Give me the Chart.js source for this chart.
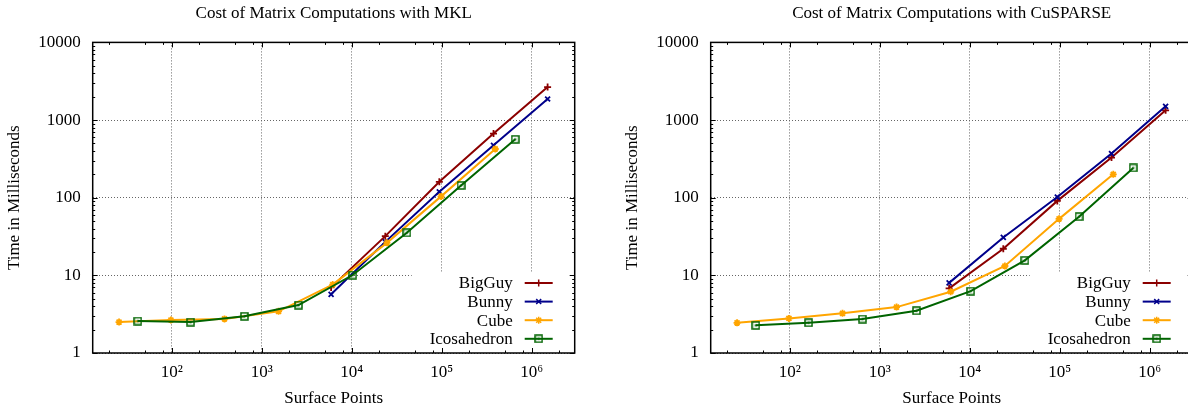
<!DOCTYPE html>
<html><head><meta charset="utf-8">
<script src="https://cdn.jsdelivr.net/npm/chart.js@4/dist/chart.umd.min.js"></script>
<style>
html,body{margin:0;padding:0;background:#fff;overflow:hidden;}
#wrap{position:relative;width:1188px;height:409px;overflow:hidden;background:#fff;}
canvas{position:absolute;top:0;}
</style></head><body>
<div id="wrap">
<canvas id="c1" width="618" height="409" style="left:0px"></canvas>
<canvas id="c2" width="618" height="409" style="left:618px"></canvas>
</div>
<script>
// ---- data ----
const seriesNames = ['BigGuy', 'Bunny', 'Cube', 'Icosahedron'];
const seriesColors = ['#8b0000', '#00008b', '#ffa500', '#006400'];
const bigGuyX = [5900, 23600, 94000, 376000, 1500000];
const bunnyX = [5900, 23600, 94000, 376000, 1500000];
const cubeX = [26, 98, 386, 1538, 6146, 24578, 98306, 393218];
const icoX = [42, 162, 642, 2562, 10242, 40962, 163842, 655362];

const mklBigGuy = [7.0, 32, 160, 670, 2660];
const mklBunny = [5.7, 27, 119, 473, 1866];
const mklCube = [2.5, 2.66, 2.75, 3.44, 7.6, 26.2, 104, 424];
const mklIco = [2.58, 2.5, 2.97, 4.14, 10.1, 35.3, 144, 565];

const cuBigGuy = [6.8, 22, 91, 329, 1334];
const cuBunny = [8.0, 30.8, 102, 370, 1503];
const cuCube = [2.45, 2.79, 3.24, 3.9, 6.15, 13.2, 53.4, 200];
const cuIco = [2.27, 2.45, 2.74, 3.5, 6.27, 15.6, 57, 242];

const xMin = 13.25, xMax = 3.0e6;
const yMin = 1, yMax = 10000;
const xMajorTicks = [100, 1000, 10000, 100000, 1000000];
const xTickLabels = ['10²', '10³', '10⁴', '10⁵', '10⁶'];
const xMinorTicks = [20, 50, 80, 200, 500, 800, 2000, 5000, 8000, 20000, 50000, 80000, 200000, 500000, 800000, 2000000];
const yMajorTicks = [1, 10, 100, 1000, 10000];
const yTickLabels = ['1', '10', '100', '1000', '10000'];
const yMinorTicks = [2, 3, 4, 5, 6, 7, 8, 9, 20, 30, 40, 50, 60, 70, 80, 90,
  200, 300, 400, 500, 600, 700, 800, 900, 2000, 3000, 4000, 5000, 6000, 7000, 8000, 9000];

const FONT = 'Liberation Serif';

function icoPoint(color) {
  const c = document.createElement('canvas');
  c.width = 9; c.height = 9;
  const g = c.getContext('2d');
  g.strokeStyle = color; g.lineWidth = 1.5;
  g.strokeRect(1, 1, 7, 7);
  g.fillStyle = color;
  g.fillRect(3.5, 3.5, 2, 2);
  return c;
}
const pointStyles = ['cross', 'crossRot', 'star', icoPoint(seriesColors[3])];

function pts(xs, ys) { return xs.map((x, i) => ({x: x, y: ys[i]})); }

const gpPlugin = {
  id: 'gp',
  beforeDatasetsDraw(chart) {
    const a = chart.chartArea, ctx = chart.ctx;
    ctx.save();
    ctx.fillStyle = '#fff';
    ctx.fillRect(a.right - 163, a.bottom - 80, 163, 80);
    ctx.restore();
  },
  afterDatasetsDraw(chart) {
    const a = chart.chartArea, ctx = chart.ctx;
    const xs = chart.scales.x, ys = chart.scales.y;
    ctx.save();
    ctx.strokeStyle = '#000';
    ctx.lineWidth = 1;
    ctx.beginPath();
    const vt = (v, len) => {
      const p = Math.round(xs.getPixelForValue(v)) + 0.5;
      ctx.moveTo(p, a.bottom); ctx.lineTo(p, a.bottom - len);
      ctx.moveTo(p, a.top); ctx.lineTo(p, a.top + len);
    };
    const ht = (v, len) => {
      const p = Math.round(ys.getPixelForValue(v)) + 0.5;
      ctx.moveTo(a.left, p); ctx.lineTo(a.left + len, p);
      ctx.moveTo(a.right, p); ctx.lineTo(a.right - len, p);
    };
    xMajorTicks.forEach(v => vt(v, 5));
    xMinorTicks.forEach(v => vt(v, 2.5));
    yMajorTicks.forEach(v => ht(v, 5));
    yMinorTicks.forEach(v => ht(v, 2.5));
    ctx.stroke();
    ctx.lineWidth = 1.5;
    ctx.strokeRect(a.left, a.top, a.right - a.left, a.bottom - a.top);

    // key
    const textRight = a.right - 62;
    const l0 = a.right - 50, l1 = a.right - 22, mx = a.right - 36;
    ctx.font = '17px "' + FONT + '"';
    ctx.textAlign = 'right';
    ctx.textBaseline = 'middle';
    chart.data.datasets.forEach((ds, i) => {
      const y = a.bottom - 70 + i * 18.6;
      ctx.fillStyle = '#000';
      ctx.fillText(ds.label, textRight, y + 1);
      ctx.strokeStyle = ds.borderColor;
      ctx.fillStyle = ds.borderColor;
      ctx.lineWidth = 2;
      ctx.beginPath(); ctx.moveTo(l0, y); ctx.lineTo(l1, y); ctx.stroke();
      ctx.lineWidth = 1.5;
      Chart.helpers.drawPoint(ctx, {pointStyle: ds.pointStyle, radius: 3.5, borderWidth: 1.5, rotation: 0}, mx, y);
    });
    ctx.restore();
  }
};

function makeChart(id, title, bg, bu, cu, ic) {
  const ys = [bg, bu, cu, ic];
  const xsArr = [bigGuyX, bunnyX, cubeX, icoX];
  const datasets = seriesNames.map((n, i) => ({
    label: n,
    data: pts(xsArr[i], ys[i]),
    borderColor: seriesColors[i],
    backgroundColor: seriesColors[i],
    borderWidth: 2,
    pointStyle: pointStyles[i],
    pointRadius: 3.5,
    pointBorderWidth: 1.8,
    pointHoverRadius: 3.5,
    tension: 0,
    showLine: true,
    fill: false,
    order: 4 - i
  }));
  return new Chart(document.getElementById(id), {
    type: 'scatter',
    data: {datasets},
    options: {
      responsive: false,
      devicePixelRatio: 1,
      animation: false,
      events: [],
      layout: {padding: {left: 0, right: 43.3, top: 0, bottom: 0}},
      plugins: {
        legend: {display: false},
        tooltip: {enabled: false},
        title: {
          display: true, text: title, fullSize: false, color: '#000',
          font: {family: FONT, size: 17, weight: 'normal'},
          padding: {top: 3, bottom: 19}
        }
      },
      scales: {
        x: {
          type: 'logarithmic', min: xMin, max: xMax,
          afterBuildTicks: s => { s.ticks = xMajorTicks.map(v => ({value: v})); },
          afterFit: s => { s.height = 56; },
          ticks: {
            autoSkip: false, maxRotation: 0, padding: 9, color: '#000',
            font: {family: FONT, size: 17},
            callback: v => xTickLabels[xMajorTicks.indexOf(v)]
          },
          grid: {display: true, drawTicks: false, color: '#666', lineWidth: 1},
          border: {display: false, dash: [1, 2]},
          title: {display: true, text: 'Surface Points', color: '#000',
            font: {family: FONT, size: 17}, padding: {top: 0, bottom: 0}}
        },
        y: {
          type: 'logarithmic', min: yMin, max: yMax,
          afterBuildTicks: s => { s.ticks = yMajorTicks.map(v => ({value: v})); },
          afterFit: s => { s.width = 92.7; },
          ticks: {
            autoSkip: false, padding: 12, color: '#000',
            font: {family: FONT, size: 17},
            callback: v => yTickLabels[yMajorTicks.indexOf(v)]
          },
          grid: {display: true, drawTicks: false, color: '#666', lineWidth: 1},
          border: {display: false, dash: [1, 2]},
          title: {display: true, text: 'Time in Milliseconds', color: '#000',
            font: {family: FONT, size: 17}, padding: {top: 4, bottom: 0}}
        }
      }
    },
    plugins: [gpPlugin]
  });
}

makeChart('c1', 'Cost of Matrix Computations with MKL', mklBigGuy, mklBunny, mklCube, mklIco);
makeChart('c2', 'Cost of Matrix Computations with CuSPARSE', cuBigGuy, cuBunny, cuCube, cuIco);
</script>
</body></html>
